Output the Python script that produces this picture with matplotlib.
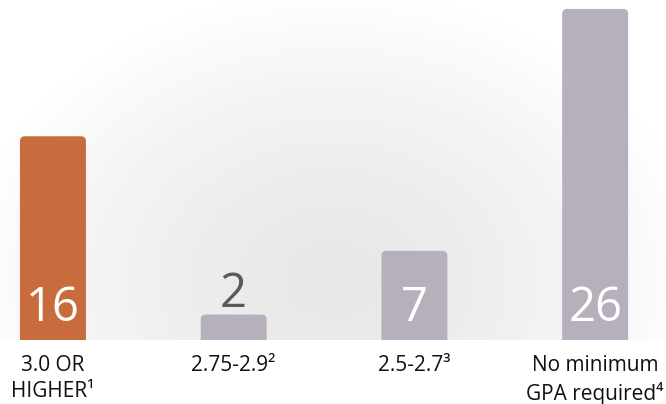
import numpy as np
import matplotlib
matplotlib.use("Agg")
import matplotlib.pyplot as plt
from matplotlib.patches import FancyBboxPatch

plt.rcParams['font.family'] = ['Open Sans', 'DejaVu Sans']

categories = ["3.0 OR\nHIGHER\u00b9", "2.75-2.9\u00b2", "2.5-2.7\u00b3", "No minimum\nGPA required\u2074"]
values = [16, 2, 7, 26]
colors = ["#C86C3E", "#B6B0BD", "#B6B0BD", "#B6B0BD"]

fig = plt.figure(figsize=(6.66, 4.04), dpi=100)
ax = fig.add_axes([0, 64 / 404, 1, 340 / 404])

# soft radial background, darkest near the bottom middle
gx, gy = np.meshgrid(np.linspace(0, 666, 333), np.linspace(340, 0, 170))
d = np.sqrt(((gx - 333) / 420) ** 2 + ((gy - 60) / 330) ** 2)
shade = np.clip(0.905 + 0.11 * d ** 1.4, 0, 1)
ax.imshow(shade, cmap="gray", vmin=0, vmax=1, extent=[0, 1, 0, 1],
          transform=ax.transAxes, aspect="auto", zorder=0, interpolation="bilinear")

x = np.arange(len(values))
width = 0.365
bars = ax.bar(x, values, width=width, color=colors, zorder=2)

ax.set_xlim(-0.293, 3.392)
ax.set_ylim(0, 26.7)

# round the top corners
px_x = (3.392 + 0.293) / 666
px_y = 26.7 / 340
r = 5 * px_x
for b in bars:
    b.set_visible(False)
    p = FancyBboxPatch((b.get_x(), -1), b.get_width(), b.get_height() + 1,
                       boxstyle=f"round,pad=0,rounding_size={r}",
                       mutation_aspect=px_y / px_x,
                       fc=b.get_facecolor(), ec="none", zorder=2, clip_on=True)
    ax.add_patch(p)

for xi, v in zip(x, values):
    if v > 4:
        ax.text(xi, 19 * px_y, str(v), ha="center", va="baseline",
                fontsize=34, color="white", zorder=3)
    else:
        ax.text(xi, v + 8 * px_y, str(v), ha="center", va="baseline",
                fontsize=34, color="#5a5a5a", zorder=3)

ax.set_xticks(x, categories)
ax.tick_params(axis="x", length=0, pad=11, labelsize=15, colors="#111111")
for t in ax.get_xticklabels():
    t.set_multialignment("center")
    t.set_linespacing(1.3)
ax.set_yticks([])
for s in ax.spines.values():
    s.set_visible(False)

fig.savefig("out.png", dpi=100)
